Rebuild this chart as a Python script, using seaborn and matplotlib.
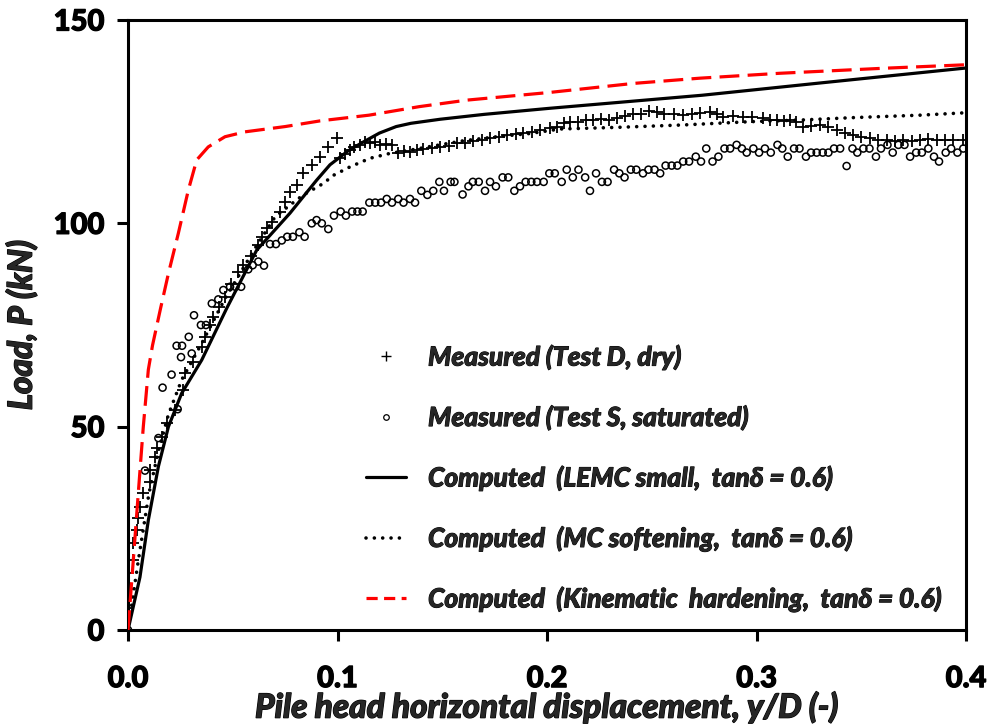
import numpy as np
import pandas as pd
import matplotlib
matplotlib.use("Agg")
import matplotlib.pyplot as plt
import matplotlib.patheffects as pe
from matplotlib.lines import Line2D
import seaborn as sns

# ---------------- data ----------------
# Measured (Test D, dry)  -- '+' markers
dry_x = [0, 0, 0, 0.0025, 0.0025, 0.0041, 0.0049, 0.0057, 0.0073, 0.0105, 0.0105, 0.0129, 0.0137,
         0.0161, 0.0185, 0.0224, 0.0264, 0.0272, 0.031, 0.0352, 0.0368, 0.039, 0.0407, 0.0435, 0.0463,
         0.049, 0.0527, 0.055, 0.0585, 0.0622, 0.0638, 0.0662, 0.0686, 0.0726, 0.0749, 0.0773, 0.0805,
         0.0836, 0.0877, 0.0916, 0.0956, 0.0996,
         0.101, 0.1035, 0.106, 0.108, 0.1107, 0.113, 0.1155, 0.118, 0.1203, 0.123, 0.1259, 0.129,
         0.1315, 0.1346, 0.138, 0.141, 0.145, 0.149, 0.153, 0.157, 0.161, 0.1648, 0.169, 0.1728,
         0.177, 0.1808, 0.185, 0.1887, 0.193, 0.1967, 0.2014, 0.2046, 0.208, 0.211, 0.215, 0.2185,
         0.2221, 0.226, 0.2295, 0.2333, 0.237, 0.2412, 0.245, 0.2487, 0.2524, 0.256, 0.2605, 0.2651,
         0.269, 0.273, 0.2778, 0.281, 0.2842, 0.289, 0.2937, 0.298, 0.3033, 0.3064, 0.3096, 0.313,
         0.316, 0.319, 0.3223, 0.326, 0.3303, 0.334, 0.3383, 0.342, 0.3462, 0.350, 0.3542, 0.358,
         0.3621, 0.366, 0.3701, 0.374, 0.378, 0.382, 0.386, 0.390, 0.394, 0.3987]
dry_y = [5.3, 10.2, 13.9, 17.2, 21.3, 24.6, 27.5, 30.3, 33.6, 36.5, 39.3, 42.6, 44.7,
         47.5, 50.8, 54.1, 59.0, 63.1, 66.0, 69.7, 72.1, 75.0, 77.0, 79.5, 82.0,
         85.0, 88.0, 89.7, 92.0, 94.7, 96.7, 98.8, 100.4, 102.9, 105.3, 107.8, 109.4,
         112.3, 114.3, 116.4, 118.8, 121.0,
         116.0, 117.0, 118.0, 118.8, 119.3, 119.9, 119.7, 120.1, 119.3, 119.6, 119.3, 117.2,
         117.8, 117.6, 118.0, 118.4, 118.6, 118.8, 119.1, 119.7, 119.8, 120.3, 120.4, 120.9,
         121.2, 121.7, 121.9, 122.3, 122.5, 122.9, 123.4, 123.8, 124.6, 125.0, 124.8, 125.4,
         125.4, 125.6, 125.3, 125.8, 126.4, 127.0, 126.8, 127.6, 127.4, 126.8, 126.9, 126.6,
         126.9, 127.2, 127.4, 126.8, 126.2, 126.4, 126.2, 126.1, 125.8, 125.4, 125.4, 125.1,
         125.4, 124.8, 123.8, 124.0, 124.2, 123.6, 122.9, 122.3, 121.7, 121.2, 120.9, 120.6,
         120.5, 120.3, 120.5, 120.3, 120.5, 120.7, 120.6, 120.4, 120.5, 120.5]

# Measured (Test S, saturated)  -- open circles
sat_x = [0, 0.0081, 0.0145, 0.0165, 0.0208, 0.0237, 0.0232, 0.0253, 0.0258, 0.029, 0.0304, 0.0315,
         0.0348, 0.0372, 0.040, 0.0431, 0.0455, 0.0487, 0.0513, 0.054, 0.0574, 0.0595, 0.0622,
         0.0649, 0.0678, 0.0706, 0.0734, 0.076, 0.0787, 0.0818, 0.0843, 0.0877, 0.09, 0.0925,
         0.0956, 0.0983, 0.1015, 0.104, 0.107, 0.1095, 0.112, 0.1152, 0.118, 0.1208, 0.1235,
         0.126, 0.129, 0.1315, 0.1346, 0.137, 0.140, 0.1429, 0.1457, 0.1486, 0.1508, 0.154,
         0.1558, 0.1597, 0.1625, 0.1646, 0.1674, 0.1704, 0.1728, 0.1756, 0.1788, 0.1815, 0.1844,
         0.1871, 0.1898, 0.1925, 0.1952, 0.1984, 0.2011, 0.2037, 0.207, 0.2094, 0.2123, 0.215,
         0.2182, 0.2205, 0.2234, 0.2262, 0.2289, 0.232, 0.2345, 0.237, 0.240, 0.2426, 0.2458,
         0.2484, 0.2513, 0.254, 0.2566, 0.2595, 0.2622, 0.265, 0.2678, 0.271, 0.2735, 0.276,
         0.279, 0.2818, 0.2847, 0.2874, 0.2905, 0.293, 0.2953, 0.2985, 0.3012, 0.304, 0.3068,
         0.31, 0.3123, 0.3149, 0.3179, 0.3205, 0.3236, 0.326, 0.3287, 0.3316, 0.3343, 0.337,
         0.3399, 0.343, 0.3458, 0.3481, 0.351, 0.3539, 0.357, 0.3594, 0.3625, 0.365, 0.3677,
         0.3706, 0.3733, 0.3762, 0.3789, 0.382, 0.3847, 0.3871, 0.3903, 0.3929, 0.3959, 0.3987]
sat_y = [0, 39.2, 47.2, 59.6, 62.8, 54.3, 69.9, 67.1, 69.9, 72.1, 68.0, 77.4,
         75.0, 75.0, 80.3, 81.3, 83.6, 84.4, 84.4, 84.4, 88.7, 89.7, 90.6,
         89.6, 94.9, 94.9, 95.8, 96.7, 96.7, 97.8, 96.7, 100.0, 100.8, 100.0,
         98.6, 101.9, 102.9, 101.9, 102.9, 102.9, 102.9, 105.1, 105.1, 105.1, 106.0,
         105.1, 106.0, 105.1, 106.0, 105.1, 108.0, 107.0, 108.0, 110.2, 108.0, 110.2,
         110.2, 107.1, 109.1, 110.2, 110.2, 108.0, 110.2, 109.1, 111.3, 111.3, 108.0,
         109.1, 110.2, 110.2, 110.2, 110.2, 112.3, 112.3, 110.2, 113.2, 111.3, 113.2,
         111.3, 108.0, 112.3, 110.2, 110.2, 113.2, 112.3, 111.3, 113.2, 113.2, 112.3,
         113.2, 113.2, 112.3, 114.2, 114.2, 114.2, 115.2, 115.2, 116.4, 115.2, 118.4,
         115.2, 116.4, 118.4, 118.4, 119.3, 118.4, 117.4, 118.4, 117.4, 118.4, 117.4,
         119.3, 118.4, 116.4, 118.4, 118.4, 116.4, 117.4, 117.4, 117.4, 117.4, 118.4,
         118.4, 114.1, 118.4, 117.4, 118.4, 118.4, 116.4, 118.4, 119.3, 117.4, 119.3,
         119.3, 116.4, 117.4, 117.4, 118.4, 116.4, 115.2, 117.4, 118.4, 117.4, 118.4]

# Computed (LEMC small, tan d = 0.6) -- solid
lemc_x = [0, 0.0057, 0.0097, 0.0145, 0.0193, 0.0256, 0.0352, 0.0471, 0.0614, 0.0773, 0.090,
          0.0964, 0.105, 0.1123, 0.12, 0.128, 0.135, 0.149, 0.17, 0.2014, 0.274, 0.33, 0.4]
lemc_y = [0, 13.0, 27.0, 40.2, 50.0, 58.2, 66.4, 79.1, 93.4, 102.5, 110.6,
          114.4, 117.8, 120.0, 122.2, 123.8, 124.6, 125.6, 126.8, 128.3, 131.5, 134.5, 138.2]

# Computed (MC softening) -- dotted
mc_x = [0, 0.0049, 0.01, 0.0145, 0.0193, 0.0256, 0.0352, 0.0463, 0.0614, 0.0702, 0.0773, 0.0837,
        0.0932, 0.098, 0.106, 0.1155, 0.125, 0.1346, 0.1432, 0.16, 0.176, 0.1919, 0.2062, 0.2333,
        0.2651, 0.2969, 0.3208, 0.3462, 0.378, 0.4]
mc_y = [0, 17.0, 33.6, 44.0, 53.0, 61.5, 70.5, 81.5, 94.5, 101.6, 104.5, 107.0,
        109.8, 111.8, 113.9, 116.0, 117.2, 118.0, 118.8, 120.3, 121.3, 122.1, 123.2, 123.6,
        124.2, 125.0, 125.4, 126.0, 126.6, 127.2]

# Computed (Kinematic hardening) -- red dashed
kh_x = [0, 0.0025, 0.0049, 0.0073, 0.0097, 0.0117, 0.0155, 0.0193, 0.024, 0.0288, 0.0328, 0.0383,
        0.0463, 0.0558, 0.075, 0.0917, 0.115, 0.139, 0.1617, 0.2014, 0.241, 0.273, 0.311, 0.359, 0.4]
kh_y = [0, 17.0, 33.6, 50.0, 64.0, 70.0, 79.0, 87.7, 97.5, 108.2, 115.6, 118.8,
        121.3, 122.5, 123.8, 125.2, 126.6, 128.7, 130.3, 132.2, 134.4, 135.7, 136.9, 138.1, 139.0]

labels = ["Measured (Test D, dry)",
          "Measured (Test S, saturated)",
          "Computed  (LEMC small,  tan\u03b4 = 0.6)",
          "Computed  (MC softening,  tan\u03b4 = 0.6)",
          "Computed  (Kinematic  hardening,  tan\u03b4 = 0.6)"]
x_ticks = [0.0, 0.1, 0.2, 0.3, 0.4]
y_ticks = [0, 50, 100, 150]

# ---------------- style ----------------
sns.set_style("white")
FAM = ["Lato", "DejaVu Sans"]
plt.rcParams["font.family"] = FAM
HEAVY = "black"
bold_fx = [pe.withStroke(linewidth=0.9, foreground="black")]

fig = plt.figure(figsize=(9.9, 7.28), dpi=100)
ax = fig.add_axes([0.1293, 0.1346, 0.8465, 0.8379])

dry = pd.DataFrame({"x": dry_x, "y": dry_y})
sat = pd.DataFrame({"x": sat_x, "y": sat_y})
lemc = pd.DataFrame({"x": lemc_x, "y": lemc_y})
mc = pd.DataFrame({"x": mc_x, "y": mc_y})
kh = pd.DataFrame({"x": kh_x, "y": kh_y})

sns.scatterplot(data=dry, x="x", y="y", marker="+", s=70, color="black", linewidth=1.3, ax=ax,
                zorder=3, legend=False)
sns.scatterplot(data=sat, x="x", y="y", marker="o", s=26, facecolor="none", edgecolor="black",
                linewidth=1.1, ax=ax, zorder=3, legend=False)
sns.lineplot(data=lemc, x="x", y="y", color="black", linewidth=2.3, ax=ax, sort=False,
             zorder=4, legend=False)
sns.lineplot(data=mc, x="x", y="y", color="black", linewidth=2.6, ax=ax, sort=False,
             linestyle=(0, (0.01, 2.3)), dash_capstyle="round", zorder=4, legend=False)
sns.lineplot(data=kh, x="x", y="y", color="#ff0000", linewidth=2.3, ax=ax, sort=False,
             linestyle=(0, (6.2, 2.6)), zorder=5, legend=False)

ax.set_xlim(0, 0.4)
ax.set_ylim(0, 150)
ax.set_xticks(x_ticks)
ax.set_xticklabels([f"{v:.1f}" for v in x_ticks])
ax.set_yticks(y_ticks)
ax.set_yticklabels([str(v) for v in y_ticks])
ax.tick_params(axis="both", direction="out", length=8, width=2.2, labelsize=21, colors="black",
               left=True, bottom=True)
ax.tick_params(axis="x", pad=18)
ax.tick_params(axis="y", pad=9)
for lab in ax.get_xticklabels() + ax.get_yticklabels():
    lab.set_fontweight(HEAVY)
    lab.set_path_effects(bold_fx)
for sp in ax.spines.values():
    sp.set_linewidth(2.2)
    sp.set_color("black")
ax.grid(False)

ax.set_xlabel("Pile head horizontal displacement, y/D (-)", fontsize=24, fontweight=HEAVY,
              fontstyle="italic", labelpad=0, path_effects=bold_fx)
ax.set_ylabel("Load, P (kN)", fontsize=24, fontweight=HEAVY, fontstyle="italic", labelpad=12,
              path_effects=bold_fx)

handles = [
    Line2D([], [], marker="+", linestyle="none", color="black", markersize=7, markeredgewidth=1.0),
    Line2D([], [], marker="o", linestyle="none", markerfacecolor="none", markeredgecolor="black",
           markersize=4, markeredgewidth=0.9),
    Line2D([], [], color="black", linewidth=2.3),
    Line2D([], [], color="black", linewidth=2.6, linestyle=(0, (0.01, 2.3)), dash_capstyle="round"),
    Line2D([], [], color="#ff0000", linewidth=2.3, linestyle=(0, (3.5, 2.0))),
]
leg = ax.legend(handles, labels, loc="upper left", bbox_to_anchor=(0.284, 0.468), frameon=False,
                prop=dict(family=FAM, weight=HEAVY, style="italic", size=19),
                labelspacing=1.33, handlelength=1.5, handletextpad=0.85, borderaxespad=0,
                borderpad=0)
for t in leg.get_texts():
    t.set_path_effects([pe.withStroke(linewidth=0.7, foreground="black")])

fig.savefig("out.png", dpi=100)
